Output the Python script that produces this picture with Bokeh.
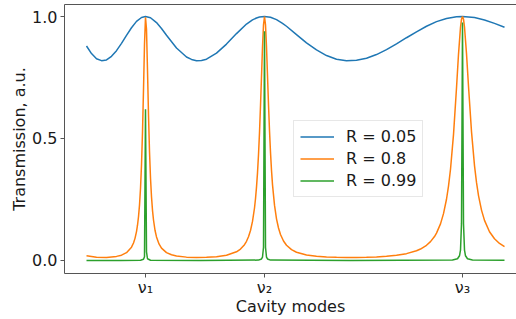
from bokeh.plotting import figure
from bokeh.models import FixedTicker, LinearAxis, Legend, LegendItem, Range1d, PrintfTickFormatter
from bokeh.embed import file_html
from bokeh.resources import INLINE

# x: cavity scan coordinate (arbitrary units), y: transmission (a.u.)
mode_ticks = [145, 264, 462]
mode_labels = ["\u03bd\u2081", "\u03bd\u2082", "\u03bd\u2083"]

x_r005 = [86, 91, 96, 101, 106, 111, 116, 121, 126, 131, 136, 141, 145, 150, 156, 161, 166, 176, 186,
          191, 196, 201, 206, 216, 226, 236, 246, 252, 256, 259, 264, 270, 276, 282, 286, 296, 306, 316,
          326, 336, 346, 356, 366, 376, 386, 396, 406, 416, 426, 436, 446, 456, 462, 474, 484, 494, 504]
y_r005 = [0.879, 0.848, 0.827, 0.819, 0.822, 0.837, 0.860, 0.890, 0.923, 0.954, 0.980, 0.996, 1.000,
          0.995, 0.975, 0.951, 0.923, 0.871, 0.834, 0.824, 0.819, 0.820, 0.825, 0.850, 0.887, 0.930,
          0.969, 0.986, 0.994, 0.998, 1.000, 0.997, 0.987, 0.972, 0.960, 0.926, 0.892, 0.863, 0.840,
          0.825, 0.819, 0.821, 0.829, 0.844, 0.864, 0.888, 0.913, 0.937, 0.960, 0.979, 0.992, 0.999,
          1.000, 0.996, 0.986, 0.972, 0.956]

x_r08 = [86, 96, 106, 116, 121, 126, 131, 133, 134.5, 136, 137, 138, 139, 140, 141, 142, 143, 144, 145,
         146, 147, 148, 149, 150, 151, 152, 153, 154.5, 156, 158.5, 161, 166, 171, 176, 186, 196, 206,
         216, 226, 236, 240, 244, 246, 248, 250, 252, 254, 255, 256, 257, 258, 259, 260, 261, 262, 263,
         264, 265, 266, 267, 268, 269, 270, 271, 272, 274, 276, 278, 280, 283, 286, 291, 296, 306, 316,
         326, 336, 346, 356, 366, 376, 386, 396, 406, 416, 420, 426, 430, 434, 436, 440, 443, 446, 448,
         450, 453, 456, 458, 460, 461, 462, 463, 464, 466, 468, 471, 474, 476, 478, 481, 484, 489, 494,
         499, 504]
y_r08 = [0.0198, 0.0131, 0.0127, 0.0168, 0.0219, 0.0321, 0.0546, 0.0718, 0.0907, 0.1184, 0.1445,
         0.1792, 0.227, 0.295, 0.391, 0.526, 0.700, 0.887, 0.9965, 0.947, 0.780, 0.597, 0.447, 0.338,
         0.261, 0.2057, 0.166, 0.124, 0.0965, 0.0678, 0.0506, 0.0323, 0.0233, 0.0184, 0.0138, 0.0124,
         0.0129, 0.0154, 0.0214, 0.0356, 0.0468, 0.065, 0.0787, 0.0971, 0.1228, 0.160, 0.2152, 0.253,
         0.3005, 0.3593, 0.4336, 0.524, 0.634, 0.754, 0.874, 0.966, 1.0, 0.966, 0.876, 0.758, 0.639,
         0.5326, 0.443, 0.370, 0.311, 0.2267, 0.1708, 0.1331, 0.1066, 0.0797, 0.0623, 0.0443, 0.0337,
         0.0224, 0.0171, 0.0143, 0.0129, 0.0124, 0.0125, 0.0133, 0.0148, 0.0174, 0.0214, 0.0281, 0.0398,
         0.0470, 0.0623, 0.0772, 0.0983, 0.1123, 0.150, 0.192, 0.251, 0.305, 0.374, 0.516, 0.707, 0.845,
         0.956, 0.989, 1.0, 0.989, 0.957, 0.848, 0.714, 0.528, 0.389, 0.320, 0.266, 0.2066, 0.1645,
         0.118, 0.0889, 0.0697, 0.0565]

x_r099 = [86, 120, 140, 143, 144, 145, 146, 147, 150, 200, 258, 261, 262, 263, 264, 265, 266, 267, 270,
          350, 452, 457, 459, 460, 461, 462, 463, 464, 465, 467, 472, 504]
y_r099 = [0.0, 0.0, 0.0009, 0.005, 0.0156, 0.62, 0.035, 0.0071, 0.001, 0.0, 0.0016, 0.0063, 0.0141,
          0.054, 0.94, 0.054, 0.0141, 0.0063, 0.0016, 0.0, 0.0018, 0.0070, 0.0193, 0.0426, 0.151, 0.975,
          0.151, 0.0426, 0.0193, 0.0070, 0.0018, 0.0005]

series_names = ["R = 0.05", "R = 0.8", "R = 0.99"]
series_colors = ["#1f77b4", "#ff7f0e", "#2ca02c"]

FONT = "DejaVu Sans"
SPINE = "#555555"

p = figure(width=516, height=319, output_backend="svg", toolbar_location=None,
           x_range=Range1d(64, 516), y_range=Range1d(-0.0533, 1.0492),
           min_border_left=64, min_border_right=0, min_border_top=4, min_border_bottom=46,
           x_axis_label="Cavity modes", y_axis_label="Transmission, a.u.")
p.outline_line_color = None
p.xgrid.visible = False
p.ygrid.visible = False
p.background_fill_color = "white"
p.border_fill_color = "white"

r1 = p.line(x_r005, y_r005, line_color=series_colors[0], line_width=1.5)
r2 = p.line(x_r08, y_r08, line_color=series_colors[1], line_width=1.5)
r3 = p.line(x_r099, y_r099, line_color=series_colors[2], line_width=1.5)

for ax in (p.xaxis[0], p.yaxis[0]):
    ax.axis_line_color = SPINE
    ax.major_tick_line_color = SPINE
    ax.minor_tick_line_color = None
    ax.major_tick_out = 4
    ax.major_tick_in = 0
    ax.major_label_text_font = FONT
    ax.major_label_text_font_size = "16px"
    ax.major_label_text_color = "#1a1a1a"
    ax.axis_label_text_font = FONT
    ax.axis_label_text_font_size = "16px"
    ax.axis_label_text_font_style = "normal"
    ax.axis_label_text_color = "#1a1a1a"

p.xaxis[0].ticker = FixedTicker(ticks=mode_ticks, minor_ticks=[])
p.xaxis[0].major_label_overrides = {t: lab for t, lab in zip(mode_ticks, mode_labels)}
p.xaxis[0].major_label_standoff = 0
p.xaxis[0].axis_label_standoff = -3

p.yaxis[0].ticker = FixedTicker(ticks=[0.0, 0.5, 1.0], minor_ticks=[])
p.yaxis[0].formatter = PrintfTickFormatter(format="%.1f")
p.yaxis[0].major_label_standoff = 3
p.yaxis[0].axis_label_standoff = 0

top = LinearAxis(ticker=FixedTicker(ticks=[], minor_ticks=[]), axis_line_color=SPINE,
                 major_tick_out=0, major_tick_in=0, major_label_standoff=0,
                 major_label_text_font_size="0px")
p.add_layout(top, "above")

legend = Legend(items=[LegendItem(label=series_names[0], renderers=[r1]),
                       LegendItem(label=series_names[1], renderers=[r2]),
                       LegendItem(label=series_names[2], renderers=[r3])],
                location=(229, 76))
legend.label_text_font = FONT
legend.label_text_font_size = "16px"
legend.label_text_color = "#1a1a1a"
legend.glyph_width = 34
legend.glyph_height = 19
legend.label_height = 19
legend.label_standoff = 12
legend.spacing = 3
legend.padding = 6
legend.margin = 0
legend.border_line_color = "#d0d0d0"
legend.border_line_width = 1
legend.background_fill_alpha = 0.8
p.add_layout(legend, "center")

open("out.html", "w").write(file_html(p, INLINE))
